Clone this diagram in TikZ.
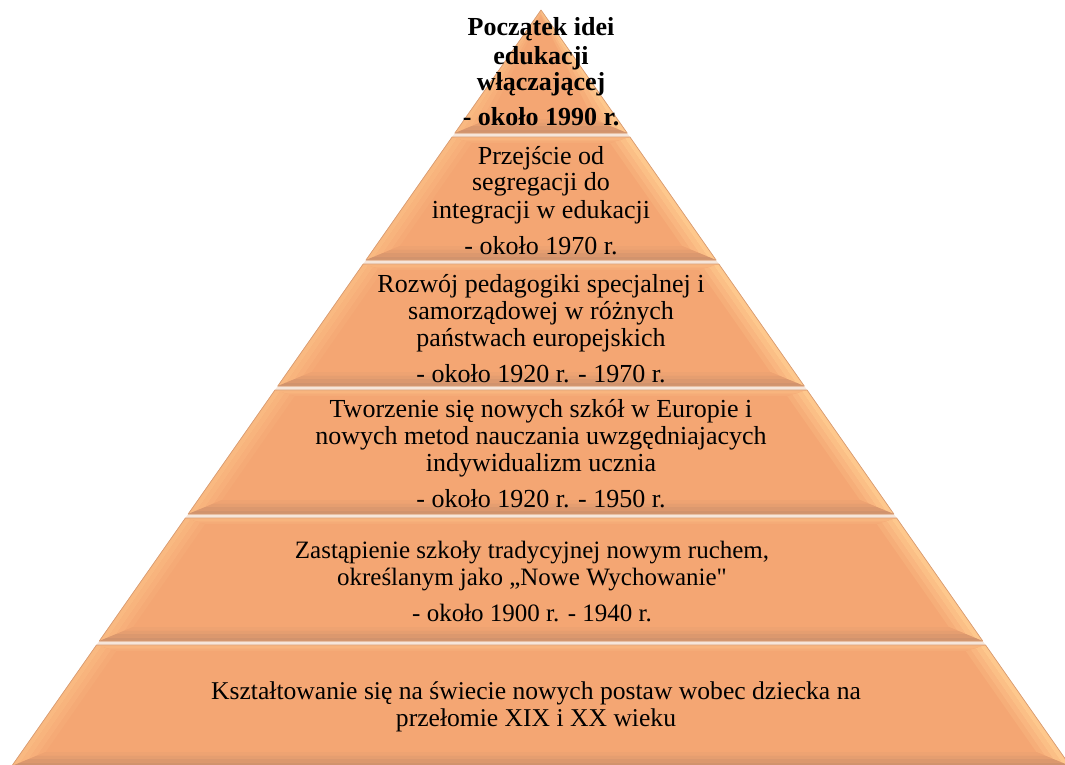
\documentclass[tikz,border=0pt]{standalone}
\usepackage{fontspec}
\setmainfont{Liberation Serif}
\newfontfamily\rawserif{Liberation Serif}
\definecolor{pyrbase}{HTML}{F4A673}
\definecolor{pyrlight}{HTML}{FFCC90}
\definecolor{pyrdark}{HTML}{C48C6A}
\definecolor{pyredge}{HTML}{D99C72}
\definecolor{pyrgap}{HTML}{F6E6DA}
\tikzset{
  lbl/.style={anchor=base, inner sep=0pt, text=black, font=\fontsize{26}{27}\selectfont},
  lblbold/.style={lbl, font=\fontsize{26}{27}\selectfont\bfseries},
  lblfive/.style={lbl, font=\fontsize{25}{27}\selectfont},
  lblsix/.style={lbl, font=\fontsize{25.6}{27}\selectfont},
}
\newcommand\pyrband[2]{%
  \def\yt{#1}\def\yb{#2}%
  \fill[pyrbase] ({541-0.7*(\yt-10)},\yt) -- ({541+0.7*(\yt-10)},\yt) -- ({541+0.7*(\yb-10)},\yb) -- ({541-0.7*(\yb-10)},\yb) -- cycle;
  \foreach \i in {0,1,2,3}{%
    \pgfmathsetmacro\sa{\i/4}\pgfmathsetmacro\sb{(\i+1)/4}%
    \pgfmathsetmacro\tya{\yt+6*(1-\sa)}\pgfmathsetmacro\tyb{\yt+6*(1-\sb)}%
    \pgfmathsetmacro\bya{\yb-14*(1-\sa)}\pgfmathsetmacro\byb{\yb-14*(1-\sb)}%
    \pgfmathsetmacro\ha{24*(1-\sa)}\pgfmathsetmacro\hb{24*(1-\sb)}%
    \pgfmathsetmacro\wta{max(0.7*(\tya-10)-\ha,0)}\pgfmathsetmacro\wtb{max(0.7*(\tyb-10)-\hb,0)}%
    \pgfmathsetmacro\wba{max(0.7*(\bya-10)-\ha,0)}\pgfmathsetmacro\wbb{max(0.7*(\byb-10)-\hb,0)}%
    \pgfmathtruncatemacro\pr{20+23*\i}%
    \pgfmathtruncatemacro\pl{10+13*\i}%
    \pgfmathtruncatemacro\pt{12+14*\i}%
    \pgfmathtruncatemacro\pb{12+20*\i}%
    \fill[pyrlight!\pl!pyrbase] ({541-\wta},\tya) -- ({541-\wba},\bya) -- ({541-\wbb},\byb) -- ({541-\wtb},\tyb) -- cycle;
    \fill[pyrlight!\pr!pyrbase] ({541+\wta},\tya) -- ({541+\wba},\bya) -- ({541+\wbb},\byb) -- ({541+\wtb},\tyb) -- cycle;
    \fill[pyrlight!\pt!pyrbase] ({541-\wta},\tya) -- ({541+\wta},\tya) -- ({541+\wtb},\tyb) -- ({541-\wtb},\tyb) -- cycle;
    \fill[pyrdark!\pb!pyrbase] ({541-\wba},\bya) -- ({541+\wba},\bya) -- ({541+\wbb},\byb) -- ({541-\wbb},\byb) -- cycle;
  }%
  \draw[pyredge, line width=0.7pt, line join=round] ({541-0.7*(\yt-10)},\yt) -- ({541+0.7*(\yt-10)},\yt) -- ({541+0.7*(\yb-10)},\yb) -- ({541-0.7*(\yb-10)},\yb) -- cycle;
}
\begin{document}
\begin{tikzpicture}[x=1pt, y=-1pt]
\useasboundingbox (0,0) rectangle (1065,764);
\begin{scope}
\clip (0,0) rectangle (1065,764);
\fill[white] (0,0) rectangle (1065,764);
\fill[pyrgap] (541,10) -- ({541+0.7*760},770) -- ({541-0.7*760},770) -- cycle;
\pyrband{10}{133}
\pyrband{137}{260}
\pyrband{264}{386}
\pyrband{390}{514}
\pyrband{518}{641}
\pyrband{645}{766}
\end{scope}

% level 1
\node[lblbold] (l1a) at (541,35) {Początek idei};
\node[lblbold] (l1b) at (541,64) {edukacji};
\node[lblbold] (l1c) at (541,90) {włączającej};
\node[lblbold] (l1d) at (541,125) {- około 1990 r.};
% level 2
\node[lbl] (l2a) at (541,164) {Przejście od};
\node[lbl] (l2b) at (541,190) {segregacji do};
\node[lbl] (l2c) at (541,218) {integracji w edukacji};
\node[lbl] (l2d) at (541,254) {- około 1970 r.};
% level 3
\node[lbl] (l3a) at (541,292) {Rozwój pedagogiki specjalnej i};
\node[lbl] (l3b) at (541,319) {samorządowej w różnych};
\node[lbl] (l3c) at (541,346) {państwach europejskich};
\node[lbl] (l3d) at (541,382) {- około 1920 r. - 1970 r.};
% level 4
\node[lbl] (l4a) at (541,417) {Tworzenie się nowych szkół w Europie i};
\node[lbl] (l4b) at (541,444) {nowych metod nauczania uwzgędniajacych};
\node[lbl] (l4c) at (541,471) {indywidualizm ucznia};
\node[lbl] (l4d) at (541,507) {- około 1920 r. - 1950 r.};
% level 5
\node[lblfive] (l5a) at (532,558) {Zastąpienie szkoły tradycyjnej nowym ruchem,};
\node[lblfive] (l5b) at (532,585) {określanym jako „Nowe Wychowanie{\rawserif"}};
\node[lblfive] (l5c) at (532,621) {- około 1900 r. - 1940 r.};
% level 6
\node[lblsix] (l6a) at (536,699) {Kształtowanie się na świecie nowych postaw wobec dziecka na};
\node[lblsix] (l6b) at (536,726) {przełomie XIX i XX wieku};
\end{tikzpicture}
\end{document}
